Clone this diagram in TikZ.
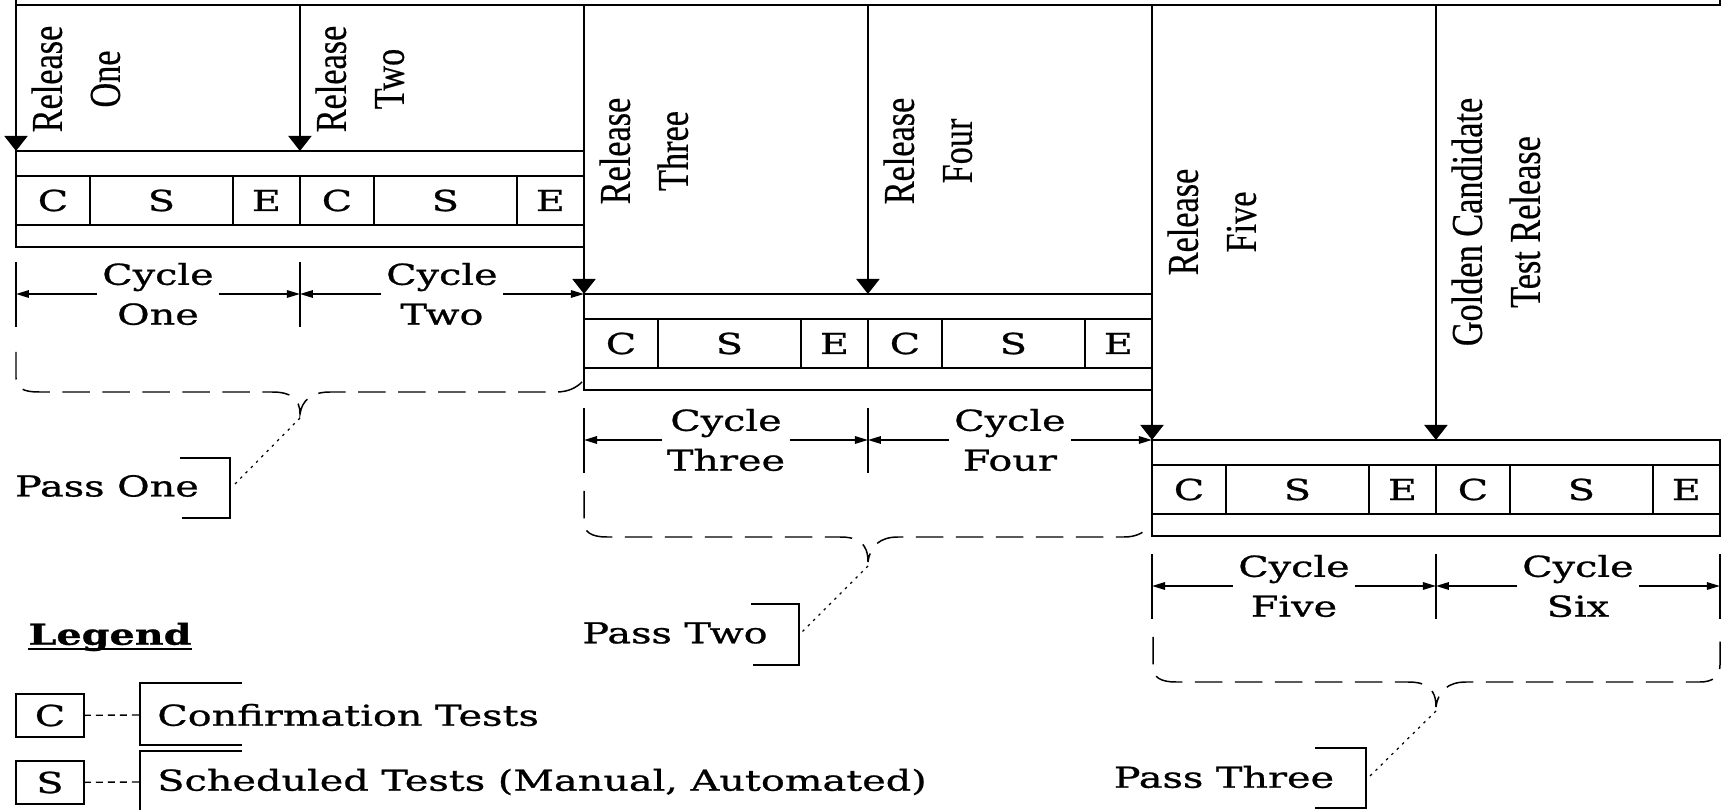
\documentclass[tikz,border=0pt]{standalone}
\usepackage{fontspec}
\setmainfont{DejaVu Serif}[FakeStretch=1.38, FakeBold=0.9]
\newfontfamily\relfont{Liberation Serif}[FakeStretch=0.78, FakeBold=0.4]
\usetikzlibrary{positioning, calc, arrows.meta}
\tikzstyle{build}=[draw, line width=1.1pt, outer sep=0pt, inner sep=0pt, minimum width=11.36cm, minimum height=1.92cm, anchor=north west]
\tikzstyle{cell}=[draw, line width=1.1pt, outer sep=0pt, inner sep=0pt, minimum height=0.98cm, font=\fontsize{16.4}{20}\selectfont]
\tikzstyle{confirm}=[cell, minimum width=1.48cm]
\tikzstyle{sched}=[cell, minimum width=2.86cm]
\tikzstyle{explore}=[cell, minimum width=1.34cm]
\tikzstyle{release}=[-{Triangle[width=0.46cm, length=0.3cm]}, line width=1.1pt]
\tikzstyle{releaseLabel}=[rotate=90, anchor=north, align=center, inner sep=0pt, font=\relfont\fontsize{25}{33}\selectfont]
\tikzstyle{cycleArrow}=[{Triangle[width=0.15cm, length=0.26cm]}-{Triangle[width=0.15cm, length=0.26cm]}, line width=0.9pt]
\tikzstyle{cycleLabel}=[fill=white, align=center, inner xsep=3pt, inner ysep=0pt, font=\fontsize{16.4}{22.7}\selectfont]
\tikzstyle{tick}=[line width=1.1pt]
\tikzstyle{passBrace}=[line width=0.85pt, dash pattern=on 0.55cm off 0.25cm]
\tikzstyle{passLink}=[line width=0.7pt, dash pattern=on 0.05cm off 0.1cm]
\tikzstyle{passLabel}=[inner sep=0pt, font=\fontsize{16.4}{20}\selectfont]
\tikzstyle{bracket}=[line width=1.1pt]
\tikzstyle{legendBox}=[draw, line width=1.1pt, outer sep=0pt, inner sep=0pt, minimum width=1.36cm, minimum height=0.86cm, anchor=north west, font=\fontsize{16.4}{20}\selectfont]
\tikzstyle{legendLink}=[line width=0.8pt, dash pattern=on 0.14cm off 0.1cm]

\begin{document}
\begin{tikzpicture}[x=0.02cm, y=-0.02cm]
        \useasboundingbox (0,0) rectangle (1725,810);

        \draw[line width=1.1pt] (16,0) |- (1720,5) -- (1720,0);
        \coordinate (top) at (0,5);

        % three builds
        \node[build] (build1) at (16,151) {};
        \node[build] (build2) at (584,294) {};
        \node[build] (build3) at (1152,440) {};
        \coordinate (endline) at (0,586);

        \node[confirm, anchor=west] (c1) at (16,200.5) {C};
        \node[sched, right=0pt of c1] (s1) {S};
        \node[explore, right=0pt of s1] (e1) {E};
        \node[confirm, right=0pt of e1] (c2) {C};
        \node[sched, right=0pt of c2] (s2) {S};
        \node[explore, right=0pt of s2] (e2) {E};

        \node[confirm, anchor=west] (c3) at (584,343.5) {C};
        \node[sched, right=0pt of c3] (s3) {S};
        \node[explore, right=0pt of s3] (e3) {E};
        \node[confirm, right=0pt of e3] (c4) {C};
        \node[sched, right=0pt of c4] (s4) {S};
        \node[explore, right=0pt of s4] (e4) {E};

        \node[confirm, anchor=west] (c5) at (1152,489.5) {C};
        \node[sched, right=0pt of c5] (s5) {S};
        \node[explore, right=0pt of s5] (e5) {E};
        \node[confirm, right=0pt of e5] (c6) {C};
        \node[sched, right=0pt of c6] (s6) {S};
        \node[explore, right=0pt of s6] (e6) {E};

        % releases
        \draw[release] (c1.west |- top) -- (build1.north west);
        \draw[release] (c2.west |- top) -- (c2.west |- build1.north);
        \draw[release] (c3.west |- top) -- (build2.north west);
        \draw[release] (c4.west |- top) -- (c4.west |- build2.north);
        \draw[release] (c5.west |- top) -- (build3.north west);
        \draw[release] (c6.west |- top) -- (c6.west |- build3.north);

        \node[releaseLabel] (rel1) at (31,79) {Release\\One};
        \node[releaseLabel] (rel2) at (315,79) {Release\\Two};
        \node[releaseLabel] (rel3) at (599,151) {Release\\Three};
        \node[releaseLabel] (rel4) at (883,151) {Release\\Four};
        \node[releaseLabel] (rel5) at (1167,222) {Release\\Five};
        \node[releaseLabel] (rel6) at (1451,222) {Golden Candidate\\Test Release};

        % cycles
        \draw[tick] (16,262) -- (16,327);
        \draw[tick] (300,262) -- (300,327);
        \draw[tick] (584,408) -- (584,473);
        \draw[tick] (868,408) -- (868,473);
        \draw[tick] (1152,554) -- (1152,619);
        \draw[tick] (1436,554) -- (1436,619);
        \draw[tick] (1720,554) -- (1720,619);

        \draw[cycleArrow] (c1.west |- build2.north) -- node[cycleLabel] (cyc1) {Cycle\\One} (c2.west |- build2.north);
        \draw[cycleArrow] (c2.west |- build2.north) -- node[cycleLabel] (cyc2) {Cycle\\Two} (e2.east |- build2.north);
        \draw[cycleArrow] (c3.west |- build3.north) -- node[cycleLabel] (cyc3) {Cycle\\Three} (c4.west |- build3.north);
        \draw[cycleArrow] (c4.west |- build3.north) -- node[cycleLabel] (cyc4) {Cycle\\Four} (e4.east |- build3.north);
        \draw[cycleArrow] (c5.west |- endline) -- node[cycleLabel] (cyc5) {Cycle\\Five} (c6.west |- endline);
        \draw[cycleArrow] (c6.west |- endline) -- node[cycleLabel] (cyc6) {Cycle\\Six} (e6.east |- endline);

        % passes
        \draw[passBrace] (16,352) -- (16,378) .. controls (16,388) and (23,392) .. (39,392) -- (272,392) .. controls (290,392) and (300,398) .. (300,414) .. controls (302,400) and (312,392) .. (330,392) -- (556,392) .. controls (568,392) and (576,388) .. (582,382);
        \draw[passBrace] (584,491) -- (584,522) .. controls (584,532) and (591,537) .. (607,537) -- (840,537) .. controls (858,537) and (868,543) .. (868,562) .. controls (870,546) and (880,537) .. (898,537) -- (1124,537) .. controls (1136,537) and (1143,533) .. (1149,527);
        \draw[passBrace] (1153,637) -- (1153,667) .. controls (1153,677) and (1160,682) .. (1176,682) -- (1408,682) .. controls (1426,682) and (1436,688) .. (1436,707) .. controls (1438,691) and (1448,682) .. (1466,682) -- (1700,682) .. controls (1712,682) and (1720,677) .. (1720,665) -- (1720,633);

        \coordinate (tip1) at (300,418);
        \coordinate (tip2) at (868,566);
        \coordinate (tip3) at (1436,711);

        \node[passLabel] (pass1) at (107,486) {Pass One};
        \node[passLabel] (pass2) at (675,633) {Pass Two};
        \node[passLabel] (pass3) at (1224,777) {Pass Three};

        \draw[bracket] (180,458) -- (230,458) -- (230,518) -- (182,518);
        \draw[bracket] (751,604) -- (799,604) -- (799,665) -- (753,665);
        \draw[bracket] (1315,748) -- (1366,748) -- (1366,808) -- (1315,808);
        \coordinate (tag1) at (232,487);
        \coordinate (tag2) at (801,633);
        \coordinate (tag3) at (1368,778);

        \draw[passLink] (tip1) -- (tag1);
        \draw[passLink] (tip2) -- (tag2);
        \draw[passLink] (tip3) -- (tag3);

        % legend
        \node[passLabel, font=\bfseries\fontsize{16.4}{20}\selectfont] (legend) at (110,637) {Legend};
        \draw[line width=1.1pt] ([yshift=-0.08cm]legend.base west) -- ([yshift=-0.08cm]legend.base east);

        \node[legendBox] (legC) at (16,694) {C};
        \node[legendBox] (legS) at (16,761) {S};
        \draw[bracket] (242,683) -- (140,683) -- (140,745) -- (242,745);
        \draw[bracket] (242,751) -- (140,751) -- (140,815);
        \coordinate (confirmTag) at (140,715);
        \coordinate (schedTag) at (140,782);
        \draw[legendLink] (legC) -- (confirmTag);
        \draw[legendLink] (legS) -- (schedTag);
        \node[passLabel, anchor=west] (confirmText) at (157,715) {Confirmation Tests};
        \node[passLabel, anchor=west] (schedText) at (157,782) {Scheduled Tests (Manual, Automated)};

    \end{tikzpicture}
\end{document}
